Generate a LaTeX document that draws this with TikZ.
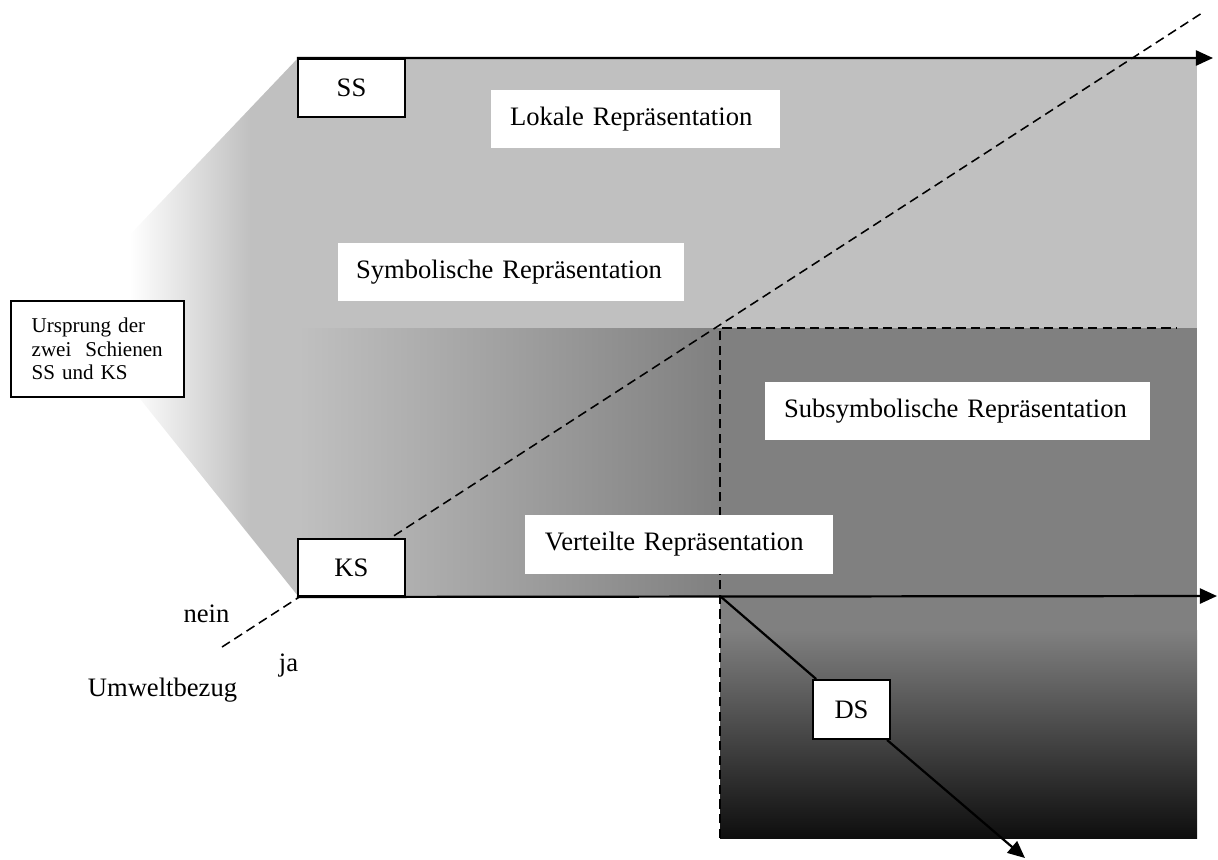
\documentclass[tikz,border=0pt]{standalone}
\usepackage{fontspec}
\setmainfont{Liberation Serif}
\usetikzlibrary{arrows.meta}
\definecolor{lightband}{RGB}{192,192,192}
\definecolor{midband}{RGB}{128,128,128}
\definecolor{deepband}{RGB}{14,14,14}
\begin{document}
\begin{tikzpicture}[x=0.451pt,y=-0.451pt,
  rail/.style={line width=1pt,-{Triangle[length=7.7pt,width=6.8pt]}},
  guide/.style={line width=0.7pt,dash pattern=on 4.2pt off 2.4pt},
  railbox/.style={draw,line width=0.9pt,fill=white,inner sep=0pt,
    font=\fontsize{12}{14}\selectfont},
  areabox/.style={fill=white,inner ysep=0pt,align=left,minimum height=26.2pt,
    font=\fontsize{12}{14}\selectfont},
  plain/.style={inner sep=0pt,anchor=base,font=\fontsize{12}{14}\selectfont}]
\useasboundingbox (0,0) rectangle (1218,859);

% fan from the origin box towards the two rails
\begin{scope}
  \clip (298,58) -- (64,304) -- (298,596) -- cycle;
  \fill[lightband] (250,58) rectangle (298,596);
  \shade[left color=white,right color=lightband] (130,58) rectangle (250,596);
\end{scope}

% upper band (symbolic)
\fill[lightband] (298,58) rectangle (1197,328);
% middle band (distributed / subsymbolic)
\shade[left color=lightband,right color=midband] (298,328) rectangle (720,596);
\fill[midband] (720,328) rectangle (1197,596);
% lower region (DS)
\fill[midband] (720,596) rectangle (1197,630);
\shade[top color=midband,bottom color=deepband] (720,630) rectangle (1197,838);

% axis of environmental reference
\coordinate (axstart) at (222,647);
\coordinate (axend) at (1202,13);
\draw[guide] (axstart) -- (axend);

% subsymbolic corner
\coordinate (crn) at (720,328);
\coordinate (crnlow) at (720,838);
\coordinate (crnright) at (1177,328);
\draw[guide] (crnlow) -- (crn) -- (crnright);

% rails
\coordinate (ssend) at (1213,58);
\coordinate (ksend) at (1217,596);
\coordinate (ksjoint) at (720,596);
\coordinate (dsend) at (1025,858);

\node[railbox,minimum width=48.3pt,minimum height=26.2pt] (SS) at (351.5,88) {SS};
\node[railbox,minimum width=48.3pt,minimum height=25.7pt] (KS) at (351.5,567.5) {KS};
\draw[rail] (SS.north west) -- (ssend);
\draw[rail] (KS.south west) -- (ksend);

\node[railbox,minimum width=34.7pt,minimum height=26.6pt] (DS) at (851.5,709.5) {DS};
\draw[line width=1pt] (ksjoint) -- (DS);
\draw[rail] (DS) -- (dsend);

% origin box
\node[draw,line width=0.9pt,fill=white,inner xsep=9.3pt,inner ysep=0pt,
  minimum width=78pt,minimum height=43.3pt,text width=59.4pt,align=left,
  font=\fontsize{9.5}{10.6}\selectfont] (origin) at (97.5,349)
  {Ursprung der\\zwei\ \ Schienen\\SS und KS};

% area labels
\node[areabox,inner xsep=8.6pt,text width=113.2pt] (lokal) at (635.5,119) {Lokale Repräsentation};
\node[areabox,inner xsep=8.1pt,text width=139.8pt] (symb) at (511,272) {Symbolische Repräsentation};
\node[areabox,inner xsep=8.6pt,text width=156.5pt] (subsymb) at (957.5,411) {Subsymbolische Repräsentation};
\node[areabox,inner xsep=9pt,text width=120.9pt] (vert) at (679,544.5) {Verteilte Repräsentation};

% axis labels
\node[plain] (nein) at (206.5,622.7) {nein};
\node[plain] (ja) at (288.5,671.7) {ja};
\node[plain] (umwelt) at (162.5,696.7) {Umweltbezug};
\end{tikzpicture}
\end{document}
